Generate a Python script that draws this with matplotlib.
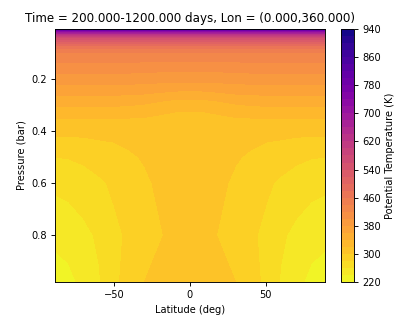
import matplotlib
matplotlib.use("Agg")
import matplotlib.pyplot as plt
import numpy as np

plt.rcParams["font.size"] = 8.6

# latitude (deg) and pressure (bar) grid of the zonal/time mean
lats = [-89, -80, -70, -60, -50, -40, -30, -20, -10, 0,
        10, 20, 30, 40, 50, 60, 70, 80, 89]
pres = [0.008, 0.015, 0.03, 0.05, 0.075, 0.1, 0.15, 0.2, 0.25,
        0.3, 0.35, 0.4, 0.5, 0.6, 0.8, 0.98]

# potential temperature (K), one row per pressure level
theta = [
    [935] * 19,
    [755] * 19,
    [620] * 19,
    [535] * 19,
    [476] * 19,
    [440] * 19,
    [412, 412, 412, 412, 412, 412, 411, 410, 410, 410, 410, 410, 411, 412, 412, 412, 412, 412, 412],
    [390, 390, 390, 390, 390, 390, 389, 388, 387, 387, 387, 388, 389, 390, 390, 390, 390, 390, 390],
    [366, 366, 366, 366, 366, 365, 364, 361, 358, 357, 358, 361, 364, 365, 366, 366, 366, 366, 366],
    [342, 342, 342, 342, 342, 341, 338, 332, 327, 326, 327, 332, 338, 341, 342, 342, 342, 342, 342],
    [321, 321, 321, 321, 321, 320, 319, 316, 314, 314, 314, 316, 319, 320, 321, 321, 321, 321, 321],
    [305, 305, 305, 306, 306, 308, 309, 310, 310, 310, 310, 310, 309, 308, 306, 306, 305, 305, 305],
    [280, 281, 284, 288, 292, 297, 302, 305, 307, 308, 307, 305, 302, 297, 292, 288, 284, 281, 280],
    [264, 266, 271, 277, 283, 289, 296, 304, 308, 309, 308, 304, 296, 289, 283, 277, 271, 266, 264],
    [246, 249, 255, 263, 276, 283, 290, 298, 306, 310, 306, 298, 290, 283, 276, 263, 255, 249, 246],
    [228, 234, 246, 258, 275, 289, 300, 308, 311, 312, 311, 308, 300, 289, 275, 258, 246, 234, 228],
]

levels = np.arange(220, 941, 20)
cbar_ticks = [220, 300, 380, 460, 540, 620, 700, 780, 860, 940]
lat_ticks = [-50, 0, 50]
pres_ticks = [0.2, 0.4, 0.6, 0.8]

fig = plt.figure(figsize=(5, 4), dpi=83)
ax = fig.add_axes([0.1325, 0.1506, 0.6505, 0.7621])
cax = fig.add_axes([0.8217, 0.1506, 0.0313, 0.7621])

cs = ax.contourf(lats, pres, np.array(theta), levels=levels, cmap="plasma_r")
ax.set_ylim(max(pres), min(pres))
ax.set_xticks(lat_ticks)
ax.set_yticks(pres_ticks)
ax.set_xlabel("Latitude (deg)")
ax.set_ylabel("Pressure (bar)")
ax.set_title("Time = 200.000-1200.000 days, Lon = (0.000,360.000)")

cb = fig.colorbar(cs, cax=cax, ticks=cbar_ticks)
cb.set_label("Potential Temperature (K)")

fig.savefig("out.png", dpi=83)
